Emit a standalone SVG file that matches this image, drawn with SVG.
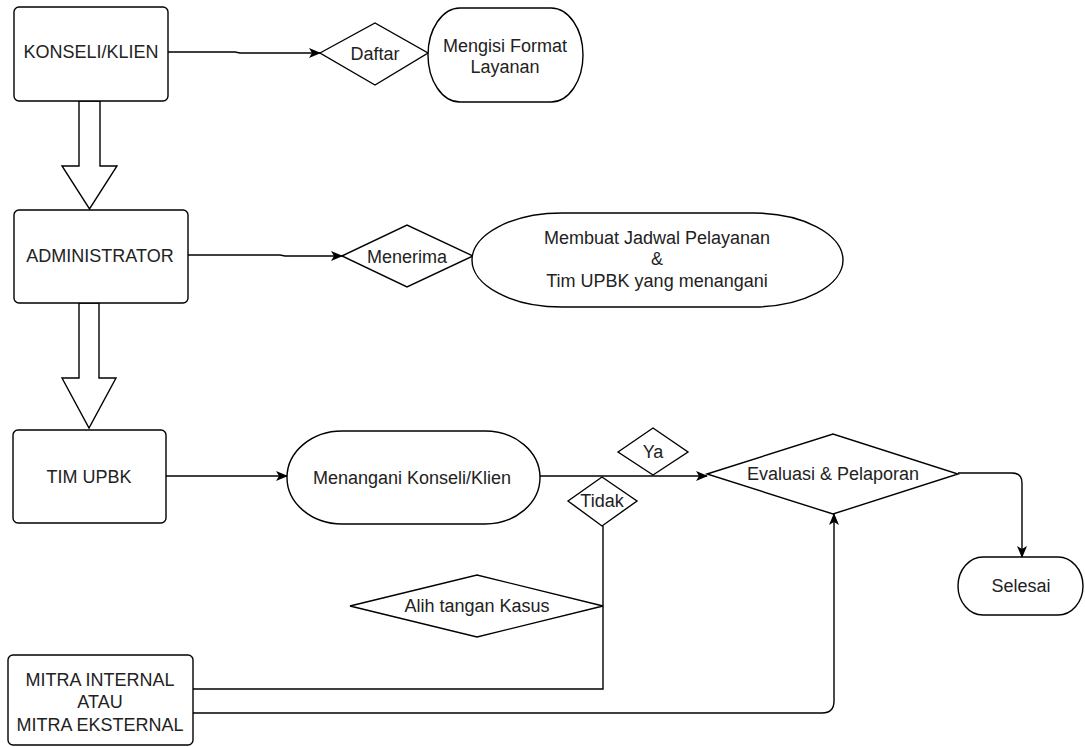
<svg xmlns="http://www.w3.org/2000/svg" width="1085" height="747" viewBox="0 0 1085 747">
<style>
.s{fill:#fff;stroke:#000;stroke-width:1.4}
.t{font-family:"Liberation Sans",Arial,sans-serif;font-size:18px;fill:#222;text-anchor:middle}
.c{fill:none;stroke:#000;stroke-width:1.4}
.ca{fill:none;stroke:#000;stroke-width:1.4;marker-end:url(#ah)}
</style>
<defs>
<marker id="ah" viewBox="0 0 12 10" refX="11" refY="5" markerWidth="12" markerHeight="10" markerUnits="userSpaceOnUse" orient="auto">
<path d="M0,0 L12,5 L0,10 L3,5 Z" fill="#000"/>
</marker>
</defs>
<rect width="1085" height="747" fill="#fff"/>
<g id="connectors">
<path class="ca" d="M168,52 L235,52 L240,53 L320,53"/>
<path class="ca" d="M188,255 L280,255 L285,256 L342,256"/>
<path class="ca" d="M166,476 L287,476"/>
<path class="ca" d="M540,476 L707,476"/>
<path class="ca" d="M958,473 L1012,473 Q1022,473 1022,483 L1022,557"/>
<path class="c" d="M193,689 L603,689 L603,526"/>
<path class="ca" d="M193,713 L822,713 Q834,713 834,701 L834,514"/>
<polygon id="block-arrow-1" class="s" points="79,101 100,101 100,166 117,166 89.5,209 62,166 79,166"/>
<polygon id="block-arrow-2" class="s" points="79,303 99,303 99,378 116,378 89,428 62,378 79,378"/>
</g>
<g id="konseli">
<rect class="s" x="14" y="7" width="154" height="94" rx="5"/>
<text class="t" x="91" y="58">KONSELI/KLIEN</text>
</g>
<g id="daftar">
<polygon class="s" points="320,53 375,23 428,53 375,85"/>
<text class="t" x="375" y="60">Daftar</text>
</g>
<g id="mengisi">
<rect class="s" x="428" y="8" width="155" height="94" rx="32" ry="47"/>
<text class="t" x="505" y="52">Mengisi Format</text>
<text class="t" x="505" y="73">Layanan</text>
</g>
<g id="administrator">
<rect class="s" x="14" y="210" width="174" height="93" rx="5"/>
<text class="t" x="100" y="262">ADMINISTRATOR</text>
</g>
<g id="menerima">
<polygon class="s" points="342,256 407,225 473,256 407,287"/>
<text class="t" x="407" y="263">Menerima</text>
</g>
<g id="membuat">
<rect class="s" x="472" y="213" width="371" height="94" rx="90" ry="47"/>
<text class="t" x="657" y="244">Membuat Jadwal Pelayanan</text>
<text class="t" x="657" y="265">&amp;</text>
<text class="t" x="657" y="287">Tim UPBK yang menangani</text>
</g>
<g id="tim-upbk">
<rect class="s" x="13" y="430" width="153" height="93" rx="5"/>
<text class="t" x="89" y="483">TIM UPBK</text>
</g>
<g id="menangani">
<rect class="s" x="287" y="431" width="253" height="93" rx="55" ry="46.5"/>
<text class="t" x="412" y="484">Menangani Konseli/Klien</text>
</g>
<g id="ya">
<polygon class="s" points="618,452 653,428 688,452 653,475"/>
<text class="t" x="653" y="458">Ya</text>
</g>
<g id="tidak">
<polygon class="s" points="568,501 602,477 637,501 602,526"/>
<text class="t" x="602" y="507">Tidak</text>
</g>
<g id="evaluasi">
<polygon class="s" points="707,474 833,434 958,474 833,514"/>
<text class="t" x="833" y="480">Evaluasi &amp; Pelaporan</text>
</g>
<g id="selesai">
<rect class="s" x="958" y="557" width="125" height="58" rx="25" ry="29"/>
<text class="t" x="1021" y="592">Selesai</text>
</g>
<g id="alih-tangan">
<polygon class="s" points="350,606 477,575 603,606 477,637"/>
<text class="t" x="477" y="612">Alih tangan Kasus</text>
</g>
<g id="mitra">
<rect class="s" x="8" y="655" width="185" height="90" rx="5"/>
<text class="t" x="100" y="686">MITRA INTERNAL</text>
<text class="t" x="100" y="708">ATAU</text>
<text class="t" x="100" y="731">MITRA EKSTERNAL</text>
</g>
</svg>
